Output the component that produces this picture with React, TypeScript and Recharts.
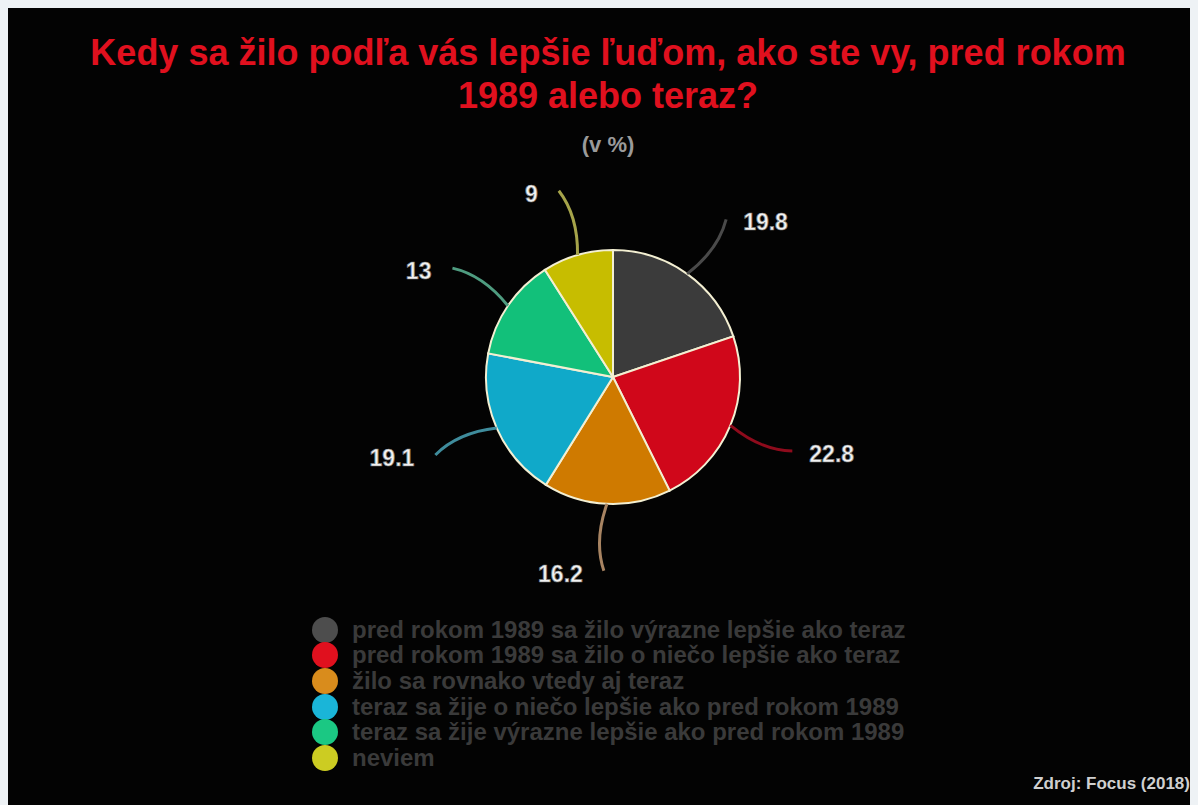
import React from 'react';
import { PieChart, Pie, Cell, Legend } from 'recharts';

const categories = [
  'pred rokom 1989 sa žilo výrazne lepšie ako teraz',
  'pred rokom 1989 sa žilo o niečo lepšie ako teraz',
  'žilo sa rovnako vtedy aj teraz',
  'teraz sa žije o niečo lepšie ako pred rokom 1989',
  'teraz sa žije výrazne lepšie ako pred rokom 1989',
  'neviem',
];
const values = [19.8, 22.8, 16.2, 19.1, 13, 9];
const sliceColors = ['#3b3b3b', '#d0071a', '#cf7a00', '#10a9c9', '#12c07a', '#c7bd00'];
const legendColors = ['#4d4d4d', '#e0101e', '#d98c1c', '#1ab5d8', '#1bc883', '#cccc22'];
const lineColors = ['#4a4a4a', '#8e0b1c', '#a88462', '#3f8c9c', '#4f9c80', '#a6a44a'];

const title1 = 'Kedy sa žilo podľa vás lepšie ľuďom, ako ste vy, pred rokom';
const title2 = '1989 alebo teraz?';
const subtitle = '(v %)';
const source = 'Zdroj: Focus (2018)';

const data = categories.map((name, i) => ({ name, value: values[i] }));

const RAD = Math.PI / 180;

function renderLabel(props: any) {
  const { cx, cy, midAngle, outerRadius, value, index } = props;
  const pt = (r: number, a: number) => ({
    x: cx + r * Math.cos(-a * RAD),
    y: cy + r * Math.sin(-a * RAD),
  });
  const start = pt(outerRadius, midAngle);
  const ctrl = pt(outerRadius + 38, midAngle - 4);
  const end = pt(outerRadius + 67, midAngle);
  const right = Math.cos(-midAngle * RAD) > 0;
  return (
    <g key={'lbl' + index}>
      <path
        d={`M${start.x},${start.y} Q${ctrl.x},${ctrl.y} ${end.x},${end.y}`}
        stroke={lineColors[index]}
        strokeWidth={3}
        fill="none"
      />
      <text
        x={right ? end.x + 17 : end.x - 21}
        y={end.y + 3}
        textAnchor={right ? 'start' : 'end'}
        dominantBaseline="central"
        fill="#f2f2f2"
        stroke="#777"
        strokeWidth={0.7}
        fontSize={23}
        fontWeight="bold"
        fontFamily="Liberation Sans, Arial, sans-serif"
      >
        {value}
      </text>
    </g>
  );
}

function renderLegend() {
  return (
    <div style={{ fontFamily: 'Liberation Sans, Arial, sans-serif' }}>
      {categories.map((name, i) => (
        <div key={name} style={{ display: 'flex', alignItems: 'center', height: 25.6 }}>
          <span
            style={{
              display: 'inline-block',
              width: 26,
              height: 26,
              borderRadius: 13,
              background: legendColors[i],
              marginRight: 14,
              flexShrink: 0,
            }}
          />
          <span style={{ color: '#3a3a3a', fontSize: 24, fontWeight: 'bold', whiteSpace: 'nowrap' }}>
            {name}
          </span>
        </div>
      ))}
    </div>
  );
}

export default function App() {
  if (typeof document !== 'undefined') {
    document.body.style.background = '#eef2f5';
  }
  return (
    <div
      style={{
        position: 'relative',
        width: 1192,
        height: 797,
        marginLeft: -2,
        background: '#030303',
        fontFamily: 'Liberation Sans, Arial, sans-serif',
      }}
    >
      <svg width={1192} height={160} style={{ position: 'absolute', left: 0, top: 0 }}>
        <text x={602} y={57} textAnchor="middle" fill="#e0101e" fontSize={36} fontWeight="bold">
          {title1}
        </text>
        <text x={602} y={100} textAnchor="middle" fill="#e0101e" fontSize={36} fontWeight="bold">
          {title2}
        </text>
        <text x={602} y={144} textAnchor="middle" fill="#9a9a9a" fontSize={22} fontWeight="bold">
          {subtitle}
        </text>
      </svg>
      <PieChart width={1192} height={797} style={{ position: 'absolute', left: 0, top: 0 }}>
        <Pie
          data={data}
          dataKey="value"
          nameKey="name"
          cx={602}
          cy={364}
          outerRadius={127}
          startAngle={90}
          endAngle={-270}
          stroke="#f3efd2"
          strokeWidth={2}
          label={renderLabel}
          labelLine={false}
          isAnimationActive={false}
        >
          {data.map((d, i) => (
            <Cell key={d.name} fill={sliceColors[i]} />
          ))}
        </Pie>
        <Legend
          layout="vertical"
          content={renderLegend}
          wrapperStyle={{ position: 'absolute', left: 306, top: 609, width: 700 }}
        />
      </PieChart>
      <div
        style={{
          position: 'absolute',
          right: 8,
          top: 766,
          color: '#cfcfcf',
          fontSize: 17,
          fontWeight: 'bold',
        }}
      >
        {source}
      </div>
    </div>
  );
}
